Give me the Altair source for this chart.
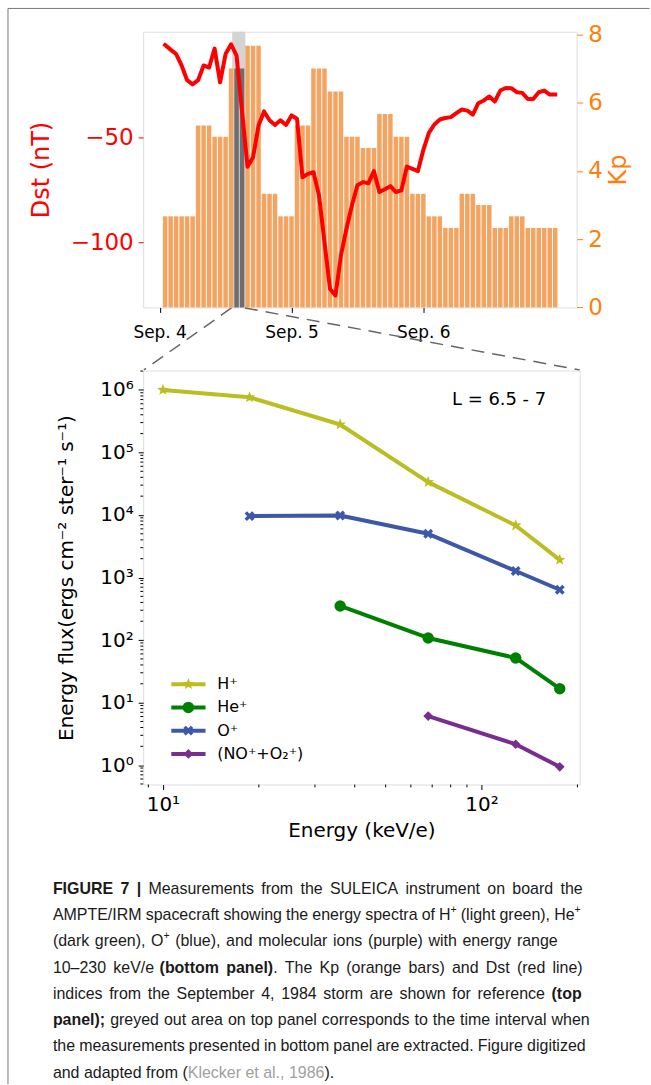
import math
import altair as alt
import pandas as pd

# ---------------- top panel data ----------------
kp_3h = [2.67, 2.67, 5.33, 5.0, 7.0, 7.67, 3.33, 2.67,
         5.33, 7.0, 6.33, 5.0, 4.67, 5.67, 5.0, 3.33,
         2.67, 2.33, 3.33, 3.0, 2.33, 2.67, 2.33, 2.33]
dst_hourly = [-6.3, -8.5, -10.6, -16, -23, -25, -23, -16, -17, -8, -24, -10.6,
              -6, -11.4, -38, -64, -59.5, -44.5, -37.8, -42, -44.2, -42, -44.2, -39.7,
              -41.3, -69, -67.4, -66.6, -77.6, -99.7, -121.8, -125, -106, -93.4, -82.3, -72.8,
              -71.3, -71.8, -66.1, -76, -74.7, -73.2, -76, -75.2, -63.9, -65, -66.1, -56,
              -48, -44, -41.6, -40.9, -40.5, -38.6, -36.9, -37.4, -39.3, -33.9, -32.6, -30.7,
              -33.1, -27.9, -26.7, -26.8, -28.7, -29, -31.9, -31.9, -28.7, -27.9, -29.8, -29.8]
day_ticks = [0, 24, 48]
day_labels = ["Sep. 4", "Sep. 5", "Sep. 6"]
dst_ticks = [-50, -100]
kp_ticks = [0, 2, 4, 6, 8]
interval = [13.2, 15.6]  # hours: greyed-out measurement interval

# ---------------- bottom panel data ----------------
series = ["H+", "He+", "O+", "NO+O2+"]
series_labels = ["H\u207a", "He\u207a", "O\u207a", "(NO\u207a+O\u2082\u207a)"]
h_energy = [10, 18.7, 36, 68, 128, 176]
h_flux = [1.0e6, 7.6e5, 2.8e5, 3.35e4, 6.8e3, 1.92e3]
he_energy = [36, 68, 128, 176]
he_flux = [351, 108, 51.8, 16.7]
o_energy = [18.7, 36, 68, 128, 176]
o_flux = [9.6e3, 9.8e3, 5.0e3, 1.27e3, 638]
mol_energy = [68, 128, 176]
mol_flux = [6.1, 2.16, 0.94]
flux_ticks = [1, 10, 100, 1e3, 1e4, 1e5, 1e6]
energy_ticks = [10, 100]
panel_label = "L = 6.5 - 7"

# caption: segments with style n(ormal) / b(old) / g(rey)
caption = [
    [("FIGURE 7 | ", "b"), ("Measurements from the SULEICA instrument on board the", "n")],
    [("AMPTE/IRM spacecraft showing the energy spectra of H\u207a (light green), He\u207a", "n")],
    [("(dark green), O\u207a (blue), and molecular ions (purple) with energy range", "n")],
    [("10\u2013230 keV/e ", "n"), ("(bottom panel)", "b"), (". The Kp (orange bars) and Dst (red line)", "n")],
    [("indices from the September 4, 1984 storm are shown for reference ", "n"), ("(top", "b")],
    [("panel);", "b"), (" greyed out area on top panel corresponds to the time interval when", "n")],
    [("the measurements presented in bottom panel are extracted. Figure digitized", "n")],
    [("and adapted from (", "n"), ("Klecker et al., 1986", "g"), (").", "n")],
]
caption_line_ends = [583, 581, 558, 583, 582, 590, 586, None]

# ---------------- layout / style ----------------
FONT = "DejaVu Sans"
CAP_FONT = "Liberation Sans"
CAP_SIZE = 16
SUP_SIZE = 10.5
OX, OY = 142.5, 29.3
TOP_W, TOP_H = 434.5, 276.4
GAP = 62.6
BOT_W, BOT_H = 437.5, 415.0
BOT_OY = OY + TOP_H + GAP
RED = "#ff0000"
ORANGE = "#ff7f0e"
BAR = "#f4a460"
colors = ["#bcbd22", "#008000", "#3d58a8", "#7b2d8f"]

# Liberation Sans (Arial-metric) advance widths in em
AW = {" ": .278, "(": .333, ")": .333, ",": .278, ".": .278, "|": .260, "\u2013": .556, "/": .278,
      ";": .278, "+": .584,
      "A": .667, "C": .722, "D": .722, "E": .667, "F": .611, "G": .778, "H": .722, "I": .278,
      "K": .667, "L": .556, "M": .833, "O": .778, "P": .667, "R": .722, "S": .667, "T": .611,
      "U": .722,
      "a": .556, "b": .556, "c": .500, "d": .556, "e": .556, "f": .278, "g": .556, "h": .556,
      "i": .222, "j": .222, "k": .500, "l": .222, "m": .833, "n": .556, "o": .556, "p": .556,
      "q": .556, "r": .333, "s": .500, "t": .278, "u": .556, "v": .500, "w": .722, "x": .500,
      "y": .500, "z": .500}
AWB = dict(AW)
AWB.update({"(": .333, ")": .333, ";": .333, "|": .280, "b": .611, "o": .611, "t": .333,
            "m": .889, "p": .611, "n": .611, "l": .278, "c": .556})


def run_width(text, kind):
    table = AWB if kind == "b" else AW
    size = SUP_SIZE if kind == "sup" else CAP_SIZE
    return sum(table.get(ch, .556) for ch in text) * size


def line_words(line):
    chars = [(ch, st) for text, st in line for ch in text]
    words, cur = [], []
    for ch, st in chars:
        if ch == " ":
            if cur:
                words.append(cur)
                cur = []
        else:
            cur.append((ch, st))
    if cur:
        words.append(cur)
    out = []
    for w in words:
        runs = []
        for ch, st in w:
            kind = "sup" if ch == "\u207a" else st
            c = "+" if ch == "\u207a" else ch
            if runs and runs[-1][1] == kind:
                runs[-1][0] += c
            else:
                runs.append([c, kind])
        out.append(runs)
    return out


cap_rows = []
for i, (line, end) in enumerate(zip(caption, caption_line_ends)):
    yc = 888 + i * 26.3
    words = line_words(line)
    widths = [sum(run_width(t, k) for t, k in w) for w in words]
    space = AW[" "] * CAP_SIZE
    gap = space
    if end is not None and len(words) > 1:
        gap = (end - 52 - sum(widths)) / (len(words) - 1)
    x = 52.0
    for w, wd in zip(words, widths):
        xr = x
        for t, k in w:
            cap_rows.append({"t": t, "kind": k, "x": xr - OX,
                             "y": yc - BOT_OY - (5.5 if k == "sup" else 0)})
            xr += run_width(t, k)
        x += wd + gap
cap_df = pd.DataFrame(cap_rows)


def lookup_expr(vals, labels):
    expr = "''"
    for v, l in reversed(list(zip(vals, labels))):
        expr = f"datum.value == {v} ? '{l}' : ({expr})"
    return expr


SUP = "['\u2070','\u00b9','\u00b2','\u00b3','\u2074','\u2075','\u2076','\u2077','\u2078','\u2079']"
pow_expr = "'10' + " + SUP + "[round(log(datum.value) / LN10)]"

# ---------------- top panel ----------------
hours = list(range(1, len(dst_hourly) + 1))
kp_hourly = [k for k in kp_3h for _ in range(3)]
bars_df = pd.DataFrame({"hour": hours, "kp": kp_hourly})
dst_df = pd.DataFrame({"hour": hours, "dst": dst_hourly})
span_df = pd.DataFrame({"t0": [interval[0]], "t1": [interval[1]]})

x_scale = alt.Scale(domain=[-3.0, 75.9], nice=False, zero=False)
kp_scale = alt.Scale(domain=[0, 8.08], nice=False, zero=False)
dst_scale = alt.Scale(domain=[-130.7, 0], nice=False, zero=False)

x_axis = alt.Axis(values=day_ticks, labelExpr=lookup_expr(day_ticks, day_labels), title=None,
                  grid=False, domain=False, tickColor="black", tickSize=5, labelFont=FONT,
                  labelFontSize=17, labelColor="black", labelPadding=12)
kp_axis = alt.Axis(orient="right", values=kp_ticks, title="Kp", grid=False, domain=False,
                   tickColor=ORANGE, tickSize=6, labelColor=ORANGE, labelFont=FONT, labelFontSize=23,
                   labelPadding=5, titleColor=ORANGE, titleFont=FONT, titleFontSize=24,
                   titleFontWeight="normal", titleAngle=270, titleBaseline="top", titlePadding=4)
dst_axis = alt.Axis(orient="left", values=dst_ticks, title="Dst (nT)", grid=False, domain=False,
                    tickColor=RED, tickSize=5, labelColor=RED, labelFont=FONT, labelFontSize=23,
                    labelPadding=5, titleColor=RED, titleFont=FONT, titleFontSize=24,
                    titleFontWeight="normal", titlePadding=17)

span = alt.Chart(span_df).mark_rect(color="#d4d4d4").encode(
    x=alt.X("t0:Q", scale=x_scale, axis=x_axis), x2="t1:Q",
    y=alt.value(0), y2=alt.value(TOP_H))

bars = alt.Chart(bars_df).transform_calculate(
    h0="datum.hour - 0.41", h1="datum.hour + 0.41"
).mark_rect().encode(
    x=alt.X("h0:Q", scale=x_scale, axis=x_axis), x2="h1:Q",
    y=alt.Y("kp:Q", scale=kp_scale, axis=kp_axis), y2=alt.datum(0),
    color=alt.condition(f"datum.hour > {interval[0]} && datum.hour < {interval[1]}",
                        alt.value("#6e6e6e"), alt.value(BAR)))

dst_line = alt.Chart(dst_df).mark_line(color=RED, strokeWidth=4, strokeJoin="round", strokeCap="square").encode(
    x=alt.X("hour:Q", scale=x_scale, axis=x_axis),
    y=alt.Y("dst:Q", scale=dst_scale, axis=dst_axis))

dash_style = dict(color="#666666", strokeWidth=1.5, strokeDash=[13, 8])
conn1 = alt.Chart().mark_rule(**dash_style).encode(
    x=alt.value(88.5), y=alt.value(TOP_H + 0.5), x2=alt.value(0.8), y2=alt.value(TOP_H + GAP))
conn2 = alt.Chart().mark_rule(**dash_style).encode(
    x=alt.value(102), y=alt.value(TOP_H + 0.5), x2=alt.value(BOT_W), y2=alt.value(TOP_H + GAP))

frame_style = dict(color="#777777", strokeWidth=1)
frame_top = alt.Chart().mark_rule(**frame_style).encode(
    x=alt.value(7 - OX), x2=alt.value(650 - OX), y=alt.value(6 - OY), y2=alt.value(6 - OY))
frame_left = alt.Chart().mark_rule(**frame_style).encode(
    x=alt.value(7 - OX), x2=alt.value(7 - OX), y=alt.value(6 - OY), y2=alt.value(1084 - OY))

top = alt.layer(span, bars, dst_line, conn1, conn2, frame_top, frame_left).resolve_scale(
    y="independent").properties(width=TOP_W, height=TOP_H)

# ---------------- bottom panel ----------------
rows = []
for s, es, fs in zip(series, [h_energy, he_energy, o_energy, mol_energy],
                     [h_flux, he_flux, o_flux, mol_flux]):
    for e, f in zip(es, fs):
        rows.append({"series": s, "energy": e, "flux": f})
spec_df = pd.DataFrame(rows)

x_lo, x_hi = 10 ** 0.938, 10 ** 2.308
y_lo, y_hi = 10 ** -0.31, 10 ** 6.31
xlog = alt.Scale(type="log", domain=[x_lo, x_hi], nice=False)
ylog = alt.Scale(type="log", domain=[y_lo, y_hi], nice=False)


def star_path(n=5, r_in=0.42):
    pts = []
    for i in range(2 * n):
        r = 1 if i % 2 == 0 else r_in
        a = -math.pi / 2 + i * math.pi / n
        pts.append((r * math.cos(a), r * math.sin(a)))
    return "M" + "L".join(f"{x:.3f},{y:.3f}" for x, y in pts) + "Z"


def x_path(w=0.32):
    plus = [(-w, -1), (w, -1), (w, -w), (1, -w), (1, w), (w, w), (w, 1), (-w, 1),
            (-w, w), (-1, w), (-1, -w), (-w, -w)]
    c = math.cos(math.pi / 4)
    pts = [((x - y) * c, (x + y) * c) for x, y in plus]
    return "M" + "L".join(f"{x:.3f},{y:.3f}" for x, y in pts) + "Z"


shapes = [star_path(), "circle", x_path(), "diamond"]
sizes = [150, 95, 130, 150]
color_enc = alt.Color("series:N", scale=alt.Scale(domain=series, range=colors), legend=None)
shape_enc = alt.Shape("series:N", scale=alt.Scale(domain=series, range=shapes), legend=None)
size_enc = alt.Size("series:N", scale=alt.Scale(domain=series, range=sizes), legend=None)

xb_axis = alt.Axis(values=energy_ticks, labelExpr=pow_expr, title="Energy (keV/e)", grid=False,
                   domain=False, tickColor="black", tickSize=5, labelFont=FONT, labelFontSize=20,
                   labelColor="black", labelPadding=5, titleFont=FONT, titleFontSize=20,
                   titleFontWeight="normal", titleColor="black", titlePadding=6)
yb_axis = alt.Axis(values=flux_ticks, labelExpr=pow_expr,
                   title="Energy flux(ergs cm\u207b\u00b2 ster\u207b\u00b9 s\u207b\u00b9)", grid=False,
                   domain=False, tickColor="black", tickSize=5, labelFont=FONT, labelFontSize=20,
                   labelColor="black", labelPadding=5, titleFont=FONT, titleFontSize=20,
                   titleFontWeight="normal", titleColor="black", titlePadding=23)

spec_line = alt.Chart(spec_df).mark_line(strokeWidth=4, strokeJoin="round").encode(
    x=alt.X("energy:Q", scale=xlog, axis=xb_axis),
    y=alt.Y("flux:Q", scale=ylog, axis=yb_axis),
    color=color_enc)
spec_pts = alt.Chart(spec_df).mark_point(filled=True, opacity=1).encode(
    x=alt.X("energy:Q", scale=xlog, axis=xb_axis),
    y=alt.Y("flux:Q", scale=ylog, axis=yb_axis),
    color=color_enc, shape=shape_enc, size=size_enc)

minor_y = [m * 10 ** e for e in range(-1, 7) for m in range(2, 10) if y_lo <= m * 10 ** e <= y_hi]
minor_x = [m * 10 ** e for e in range(0, 3) for m in range(2, 10) if x_lo <= m * 10 ** e <= x_hi]
ym = alt.Chart(pd.DataFrame({"v": minor_y})).mark_rule(color="black", strokeWidth=1).encode(
    y=alt.Y("v:Q", scale=ylog, axis=yb_axis), x=alt.value(-2.8), x2=alt.value(0))
xm = alt.Chart(pd.DataFrame({"v": minor_x})).mark_rule(color="black", strokeWidth=1).encode(
    x=alt.X("v:Q", scale=xlog, axis=xb_axis), y=alt.value(BOT_H), y2=alt.value(BOT_H + 2.8))

leg_df = pd.DataFrame({"series": series, "label": series_labels})
LEG_Y0, LEG_DY = 314.4, 23.3
legend_layers = []
for i, s in enumerate(series):
    yv = alt.value(LEG_Y0 + i * LEG_DY)
    sub = alt.Chart(leg_df).transform_filter(alt.datum.series == s)
    legend_layers += [
        sub.mark_rule(strokeWidth=4).encode(y=yv, x=alt.value(28.2), x2=alt.value(62.5), color=color_enc),
        sub.mark_point(filled=True, opacity=1).encode(y=yv, x=alt.value(45.3), color=color_enc,
                                                      shape=shape_enc, size=size_enc),
        sub.mark_text(align="left", baseline="middle", font=FONT, fontSize=16, color="black").encode(
            y=yv, x=alt.value(74.2), text="label:N"),
    ]

l_text = alt.Chart(pd.DataFrame({"t": [panel_label]})).mark_text(
    align="left", baseline="middle", font=FONT, fontSize=18, color="black").encode(
    x=alt.value(309.5), y=alt.value(29.7), text="t:N")

cap_styles = {
    "n": dict(fontSize=CAP_SIZE, fontWeight="normal", color="#1a1a1a"),
    "b": dict(fontSize=CAP_SIZE, fontWeight="bold", color="#1a1a1a"),
    "g": dict(fontSize=CAP_SIZE, fontWeight="normal", color="#a0a0a0"),
    "sup": dict(fontSize=SUP_SIZE, fontWeight="normal", color="#1a1a1a"),
}
cap_layers = []
for kind, sty in cap_styles.items():
    sub = cap_df[cap_df["kind"] == kind]
    if len(sub) == 0:
        continue
    cap_layers.append(
        alt.Chart(sub).mark_text(align="left", baseline="middle", font=CAP_FONT, **sty).encode(
            x=alt.X("x:Q", scale=None), y=alt.Y("y:Q", scale=None), text="t:N"))

bottom = alt.layer(xm, ym, spec_line, spec_pts, *legend_layers, l_text, *cap_layers).properties(
    width=BOT_W, height=BOT_H)

chart = alt.vconcat(top, bottom, spacing=GAP, bounds="flush").properties(
    padding={"left": 6.5, "top": 5.5, "right": 0, "bottom": 0}
).configure_view(stroke="#222222", strokeWidth=1).configure(font=FONT)

chart.save("out.html", embed_options={"renderer": "svg", "actions": False})
